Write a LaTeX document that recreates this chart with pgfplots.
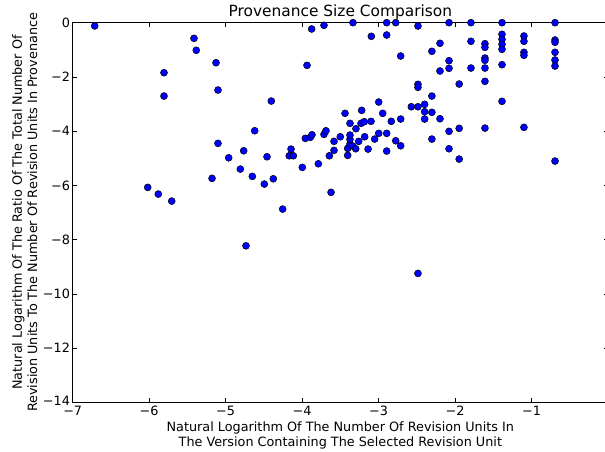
\documentclass[border=0pt]{standalone}
\usepackage{fontspec}
\setmainfont{DejaVu Sans}
\usepackage{pgfplots}
\pgfplotsset{compat=1.18}
\begin{document}
\begin{tikzpicture}
\begin{axis}[name=ax, at={(0,0)}, anchor=south west,
 scale only axis, width=535.3pt, height=379.6pt,
 xmin=-7, xmax=0, ymin=-14, ymax=0,
 xtick={-7,-6,-5,-4,-3,-2,-1}, xticklabels={−7,−6,−5,−4,−3,−2,−1},
 ytick={-14,-12,-10,-8,-6,-4,-2,0}, yticklabels={\raisebox{3pt}{−14},−12,−10,−8,−6,−4,−2,0},
 tick align=inside, major tick length=4pt,
 tick style={black, line width=0.6pt},
 axis line style={line width=0.8pt},
 ticklabel style={font=\fontsize{12.8}{15}\selectfont},
 yticklabel style={inner sep=2.5pt},
 xticklabel style={inner sep=4pt},
 title={Provenance Size Comparison},
 title style={at={(axis description cs:0.5,1.0003)}, anchor=base, font=\fontsize{15.4}{18}\selectfont, inner sep=0pt},
 xlabel={Natural Logarithm Of The Number Of Revision Units In\\The Version Containing The Selected Revision Unit},
 xlabel style={at={(axis description cs:0.5,-0.050)}, anchor=north, inner sep=0pt, align=center, font=\fontsize{12.8}{15.2}\selectfont},
 ylabel={Natural Logarithm Of The Ratio Of The Total Number Of\\Revision Units To The Number Of Revision Units In Provenance},
 ylabel style={at={(axis description cs:-0.1135,0.5)}, anchor=north, inner sep=0pt, align=center, font=\fontsize{12.8}{15.2}\selectfont},
]
\addplot[only marks, mark=*, mark size=3.5pt, mark options={fill=blue, draw=black, line width=0.5pt}] table {
x y
-6.712 -0.12
-5.806 -1.845
-5.806 -2.705
-5.414 -0.576
-5.384 -1.018
-5.126 -1.476
-5.100 -2.483
-5.100 -4.450
-4.960 -4.982
-4.764 -4.723
-4.620 -3.985
-4.808 -5.399
-4.651 -5.668
-5.178 -5.742
-6.019 -6.074
-5.881 -6.321
-5.705 -6.579
-4.494 -5.952
-4.377 -5.756
-4.254 -6.875
-4.459 -4.945
-4.403 -2.889
-4.168 -4.908
-4.115 -4.908
-4.145 -4.661
-3.997 -5.336
-3.958 -4.266
-3.893 -4.229
-3.871 -4.133
-3.936 -1.572
-3.875 -0.232
-3.714 -0.096
-3.788 -5.203
-3.714 -4.118
-3.688 -3.985
-3.644 -4.908
-3.622 -6.258
-3.583 -4.376
-3.583 -4.708
-3.501 -4.207
-3.439 -3.343
-3.404 -4.893
-3.404 -4.635
-3.374 -4.476
-3.374 -4.303
-3.374 -4.144
-3.374 -3.712
-3.338 -4.550
-3.299 -4.649
-3.296 -3.911
-3.260 -4.376
-3.221 -3.232
-3.230 -3.712
-3.187 -3.653
-3.099 -3.638
-3.182 -4.207
-3.138 -4.661
-3.335 0
-3.095 -0.502
-3.051 -4.292
-2.998 -2.926
-2.998 -4.081
-2.946 -3.343
-2.894 0
-2.776 0
-2.894 -0.454
-2.894 -4.081
-2.894 -4.734
-2.834 -3.638
-2.776 -4.354
-2.711 -1.229
-2.711 -3.553
-2.711 -4.539
-2.572 -3.100
-2.485 -3.100
-2.485 -0.122
-2.485 -2.273
-2.485 -2.384
-2.398 -3.011
-2.398 -3.284
-2.398 -3.553
-2.303 -2.705
-2.303 -3.306
-2.303 -4.292
-2.303 -1.055
-2.197 -0.760
-2.197 -1.782
-2.197 -3.542
-2.079 0
-2.079 -1.402
-2.079 -1.683
-2.079 -4.007
-2.079 -4.649
-1.946 -2.262
-1.946 -3.897
-1.946 -5.030
-1.792 0
-1.792 -0.686
-1.792 -1.672
-1.609 -0.775
-1.609 -0.908
-1.609 -1.303
-1.609 -1.387
-1.609 -1.672
-1.609 -2.162
-1.609 -3.886
-1.386 0
-1.386 -0.428
-1.386 -0.613
-1.386 -0.797
-1.386 -0.982
-1.386 -1.550
-1.386 -2.900
-1.099 -0.491
-1.099 -0.686
-1.099 -1.092
-1.099 -1.203
-1.099 -3.860
-0.693 0
-0.693 -0.638
-0.693 -0.723
-0.693 -1.092
-0.693 -1.376
-0.693 -1.598
-0.693 -5.103
-4.734 -8.229
-2.485 -9.247
};
\end{axis}
\pgfresetboundingbox
\path[use as bounding box] (-72.7pt,-49.7pt) rectangle (532.3pt,402.3pt);
\end{tikzpicture}
\end{document}
